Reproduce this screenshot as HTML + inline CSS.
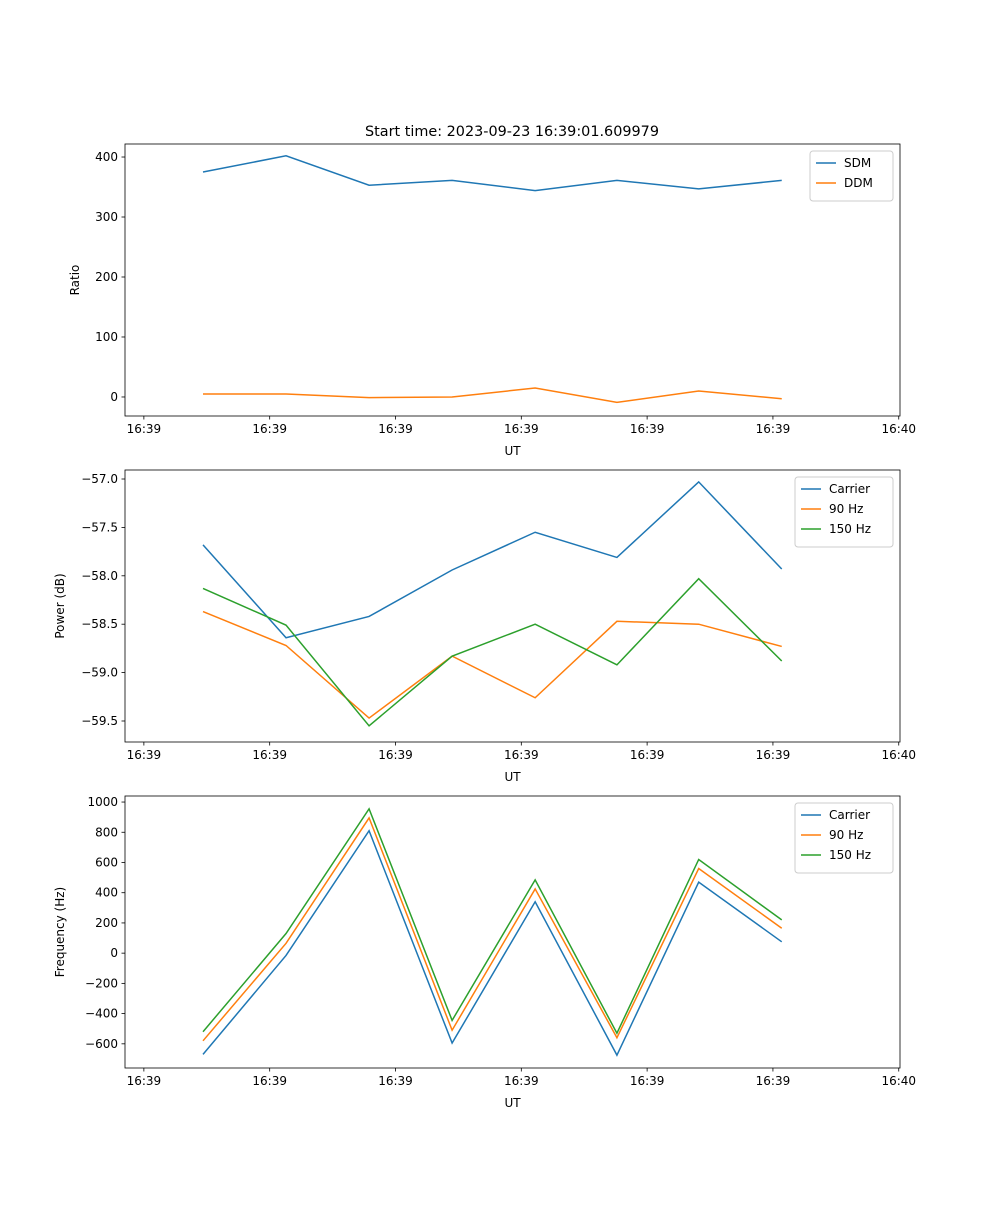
<!DOCTYPE html>
<html><head><meta charset="utf-8"><style>
body{margin:0;background:#fff;}
svg text{font-family:"DejaVu Sans","Liberation Sans",sans-serif;font-size:12px;fill:#000;}
</style></head><body>
<svg id="fig" width="1000" height="1200" xmlns="http://www.w3.org/2000/svg">
<rect width="1000" height="1200" fill="#fff"/>
<text x="512" y="136" text-anchor="middle" style="font-size:14.4px">Start time: 2023-09-23 16:39:01.609979</text>
</svg>
<script>
// shared x data (seconds after 16:39:00)
const times = [4.7, 11.3, 17.9, 24.5, 31.1, 37.6, 44.1, 50.7];
const xTickVals = [0, 10, 20, 30, 40, 50, 60];
const xTickLabels = ["16:39","16:39","16:39","16:39","16:39","16:39","16:40"];
// panel 1
const sdm = [375, 402, 353, 361, 344, 361, 347, 361];
const ddm = [5, 5, -1, 0, 15, -9, 10, -3];
const p1Ticks = [0, 100, 200, 300, 400];
// panel 2
const pwrCarrier = [-57.68, -58.64, -58.42, -57.94, -57.55, -57.81, -57.03, -57.93];
const pwr90 = [-58.37, -58.72, -59.47, -58.83, -59.26, -58.47, -58.50, -58.73];
const pwr150 = [-58.13, -58.51, -59.55, -58.83, -58.50, -58.92, -58.03, -58.88];
const p2Ticks = [-59.5, -59.0, -58.5, -58.0, -57.5, -57.0];
// panel 3
const frqCarrier = [-670, -15, 810, -595, 340, -675, 470, 75];
const frq90 = [-580, 65, 895, -510, 425, -560, 560, 165];
const frq150 = [-520, 130, 955, -445, 485, -530, 620, 220];
const p3Ticks = [-600, -400, -200, 0, 200, 400, 600, 800, 1000];

const NS = "http://www.w3.org/2000/svg";
const svg = document.getElementById('fig');
const C = ['#1f77b4', '#ff7f0e', '#2ca02c'];
function mk(tag, attrs, parent) {
  const e = document.createElementNS(NS, tag);
  for (const k in attrs) e.setAttribute(k, attrs[k]);
  (parent || svg).appendChild(e);
  return e;
}
const L = 125, R = 900, XMIN = -1.5, XMAX = 60.1;
function xs(v) { return L + (v - XMIN) / (XMAX - XMIN) * (R - L); }

function panel(id, top, bot, ymin, ymax, ticks, fmt, ylabel, series, names, legW) {
  const g = mk('g', {});
  
  
  const ys = v => bot - (v - ymin) / (ymax - ymin) * (bot - top);
  series.forEach((s, i) => {
    const p = mk('polyline', {points: s.map((v, j) => xs(times[j]) + ',' + ys(v)).join(' '), fill: 'none', stroke: C[i], 'stroke-width': 1.5}, g);
    
    
  });
  const fr = mk('rect', {x: L, y: top, width: R - L, height: bot - top, fill: 'none', stroke: '#000', 'stroke-width': 0.8}, g);
  
  
  xTickVals.forEach((v, i) => {
    const x = xs(v);
    mk('line', {x1: x, x2: x, y1: bot, y2: bot + 3.5, stroke: '#000', 'stroke-width': 0.8}, g);
    const t = mk('text', {x: x, y: bot + 17, 'text-anchor': 'middle'}, g);
    t.textContent = xTickLabels[i];
    
    
  });
  const xl = mk('text', {x: (L + R) / 2, y: bot + 39, 'text-anchor': 'middle'}, g);
  xl.textContent = 'UT';
  
  
  ticks.forEach(v => {
    const y = ys(v);
    mk('line', {x1: L, x2: L - 3.5, y1: y, y2: y, stroke: '#000', 'stroke-width': 0.8}, g);
    const t = mk('text', {x: L - 7, y: y + 4, 'text-anchor': 'end'}, g);
    t.textContent = fmt(v);
    
    
  });
  const yl = mk('text', {x: 0, y: 0, 'text-anchor': 'middle', transform: 'translate(' + (id === 'ratio-panel' ? 79 : 64) + ',' + ((top + bot) / 2) + ') rotate(-90)'}, g);
  yl.textContent = ylabel;
  
  
  const lx = R - 7 - legW, ly = top + 7;
  const lg = mk('g', {}, g);
  
  
  mk('rect', {x: lx, y: ly, width: legW, height: 10 + names.length * 20, fill: '#fff', 'fill-opacity': 0.8, stroke: '#ccc', rx: 3}, lg);
  names.forEach((n, i) => {
    const yy = ly + 12 + i * 20;
    mk('line', {x1: lx + 6, x2: lx + 26, y1: yy, y2: yy, stroke: C[i], 'stroke-width': 1.5}, lg);
    const t = mk('text', {x: lx + 34, y: yy + 4}, lg);
    t.textContent = n;
    
    
  });
}
panel('ratio-panel', 144, 416, -31.7, 421.7, p1Ticks, v => String(v), 'Ratio', [sdm, ddm], ['SDM', 'DDM'], 83);
panel('power-panel', 470, 742, -59.717, -56.907, p2Ticks, v => v.toFixed(1).replace('-', '\u2212'), 'Power (dB)', [pwrCarrier, pwr90, pwr150], ['Carrier', '90 Hz', '150 Hz'], 98);
panel('frequency-panel', 796, 1068, -760, 1040, p3Ticks, v => String(v).replace('-', '\u2212'), 'Frequency (Hz)', [frqCarrier, frq90, frq150], ['Carrier', '90 Hz', '150 Hz'], 98);
</script>
</body></html>
